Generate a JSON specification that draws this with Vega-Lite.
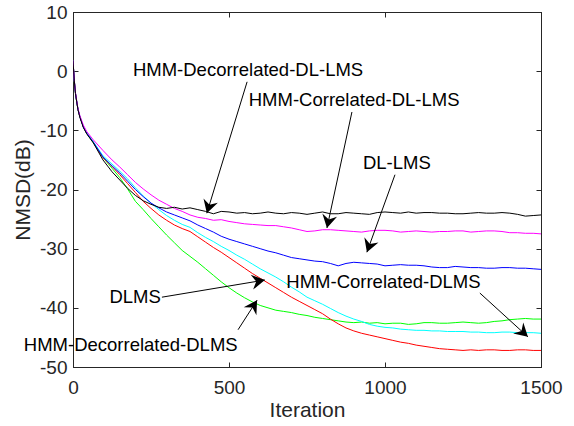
{
  "$schema": "https://vega.github.io/schema/vega-lite/v6.json",
  "width": 468,
  "height": 355,
  "autosize": "none",
  "padding": {"left": 73, "top": 12, "right": 33, "bottom": 59},
  "background": "white",
  "config": {
    "view": {"stroke": "#262626", "strokeWidth": 1},
    "font": "Liberation Sans",
    "axis": {
      "grid": false,
      "domainColor": "#262626",
      "tickColor": "#262626",
      "labelColor": "#262626",
      "titleColor": "#262626",
      "labelFont": "Liberation Sans",
      "titleFont": "Liberation Sans",
      "labelFontSize": 19,
      "titleFontSize": 21,
      "titleFontWeight": "normal",
      "tickSize": -5,
      "labelFlush": false,
      "labelOverlap": false,
      "labelExpr": "'' + datum.value"
    }
  },
  "datasets": {
    "curves": [
      {"x": 0, "k": 1.8, "m": 1.8, "b": 1.8, "c": 1.8, "r": 1.8, "g": 1.8},
      {"x": 4, "k": -1.5, "m": -1.4, "b": -1.5, "c": -1.5, "r": -1.5, "g": -1.5},
      {"x": 8, "k": -3.8, "m": -3.6, "b": -3.8, "c": -3.7, "r": -3.8, "g": -3.8},
      {"x": 12, "k": -5.2, "m": -5.0, "b": -5.2, "c": -5.1, "r": -5.2, "g": -5.2},
      {"x": 16, "k": -6.5, "m": -6.3, "b": -6.5, "c": -6.4, "r": -6.5, "g": -6.5},
      {"x": 22, "k": -7.8, "m": -7.5, "b": -7.7, "c": -7.6, "r": -7.7, "g": -7.7},
      {"x": 33, "k": -9.5, "m": -9.1, "b": -9.4, "c": -9.3, "r": -9.4, "g": -9.4},
      {"x": 44, "k": -10.6, "m": -10.2, "b": -10.5, "c": -10.4, "r": -10.5, "g": -10.5},
      {"x": 65, "k": -12.1, "m": -11.6, "b": -12.0, "c": -11.9, "r": -12.0, "g": -12.1},
      {"x": 96, "k": -15.0, "m": -13.4, "b": -14.5, "c": -14.3, "r": -14.6, "g": -14.6},
      {"x": 125, "k": -17.0, "m": -15.0, "b": -16.0, "c": -15.7, "r": -16.1, "g": -16.4},
      {"x": 150, "k": -18.4, "m": -16.2, "b": -17.2, "c": -16.9, "r": -17.5, "g": -18.0},
      {"x": 175, "k": -19.8, "m": -17.5, "b": -18.6, "c": -18.2, "r": -19.0, "g": -19.9},
      {"x": 200, "k": -21.0, "m": -18.8, "b": -20.0, "c": -19.7, "r": -20.5, "g": -22.0},
      {"x": 225, "k": -21.9, "m": -19.9, "b": -21.2, "c": -21.1, "r": -22.0, "g": -23.4},
      {"x": 250, "k": -22.5, "m": -20.9, "b": -22.3, "c": -22.3, "r": -23.2, "g": -24.9},
      {"x": 275, "k": -23.0, "m": -21.8, "b": -23.1, "c": -23.4, "r": -24.3, "g": -26.3},
      {"x": 300, "k": -23.2, "m": -22.5, "b": -23.8, "c": -24.4, "r": -25.2, "g": -27.7},
      {"x": 325, "k": -23.0, "m": -23.2, "b": -24.3, "c": -25.2, "r": -26.0, "g": -29.0},
      {"x": 350, "k": -23.3, "m": -23.7, "b": -24.8, "c": -25.9, "r": -26.6, "g": -30.3},
      {"x": 375, "k": -23.1, "m": -24.3, "b": -25.3, "c": -26.4, "r": -27.1, "g": -31.3},
      {"x": 400, "k": -23.4, "m": -24.7, "b": -26.0, "c": -27.3, "r": -28.0, "g": -32.3},
      {"x": 425, "k": -23.7, "m": -24.9, "b": -26.6, "c": -28.1, "r": -28.9, "g": -33.4},
      {"x": 450, "k": -24.1, "m": -25.2, "b": -27.2, "c": -28.8, "r": -29.8, "g": -34.5},
      {"x": 475, "k": -23.7, "m": -25.1, "b": -27.9, "c": -29.6, "r": -30.6, "g": -35.6},
      {"x": 500, "k": -23.8, "m": -25.4, "b": -28.4, "c": -30.3, "r": -31.5, "g": -36.6},
      {"x": 525, "k": -24.0, "m": -25.6, "b": -28.8, "c": -31.1, "r": -32.4, "g": -37.5},
      {"x": 550, "k": -23.9, "m": -25.8, "b": -29.2, "c": -31.8, "r": -33.3, "g": -38.3},
      {"x": 575, "k": -24.1, "m": -25.9, "b": -29.6, "c": -32.6, "r": -34.2, "g": -39.0},
      {"x": 600, "k": -24.0, "m": -26.0, "b": -30.0, "c": -33.4, "r": -35.0, "g": -39.6},
      {"x": 625, "k": -23.8, "m": -26.1, "b": -30.4, "c": -34.1, "r": -35.8, "g": -40.0},
      {"x": 650, "k": -24.0, "m": -26.1, "b": -30.7, "c": -34.8, "r": -36.6, "g": -40.4},
      {"x": 675, "k": -24.1, "m": -26.3, "b": -31.1, "c": -35.6, "r": -37.4, "g": -40.6},
      {"x": 700, "k": -23.9, "m": -26.5, "b": -31.5, "c": -36.5, "r": -38.2, "g": -40.8},
      {"x": 725, "k": -24.0, "m": -26.8, "b": -31.7, "c": -37.3, "r": -38.9, "g": -41.1},
      {"x": 750, "k": -24.2, "m": -27.1, "b": -31.9, "c": -38.2, "r": -39.6, "g": -41.3},
      {"x": 775, "k": -24.0, "m": -27.0, "b": -32.1, "c": -38.8, "r": -40.3, "g": -41.6},
      {"x": 800, "k": -23.8, "m": -26.8, "b": -32.2, "c": -39.4, "r": -41.0, "g": -41.8},
      {"x": 825, "k": -24.1, "m": -26.8, "b": -32.5, "c": -40.1, "r": -41.9, "g": -42.0},
      {"x": 850, "k": -24.1, "m": -26.9, "b": -32.9, "c": -40.8, "r": -42.7, "g": -42.2},
      {"x": 875, "k": -23.9, "m": -27.0, "b": -32.5, "c": -41.4, "r": -43.4, "g": -42.4},
      {"x": 900, "k": -24.0, "m": -27.1, "b": -32.3, "c": -41.9, "r": -43.9, "g": -42.5},
      {"x": 925, "k": -24.1, "m": -27.2, "b": -32.4, "c": -42.3, "r": -44.3, "g": -42.4},
      {"x": 950, "k": -24.2, "m": -27.0, "b": -32.5, "c": -42.8, "r": -44.6, "g": -42.6},
      {"x": 975, "k": -23.9, "m": -26.9, "b": -32.6, "c": -43.1, "r": -44.9, "g": -42.5},
      {"x": 1000, "k": -23.8, "m": -26.9, "b": -32.9, "c": -43.3, "r": -45.2, "g": -42.7},
      {"x": 1025, "k": -23.9, "m": -27.0, "b": -32.8, "c": -43.4, "r": -45.5, "g": -42.6},
      {"x": 1050, "k": -24.0, "m": -27.2, "b": -32.7, "c": -43.6, "r": -45.8, "g": -42.6},
      {"x": 1075, "k": -23.8, "m": -27.1, "b": -32.8, "c": -43.7, "r": -46.0, "g": -42.8},
      {"x": 1100, "k": -24.0, "m": -27.0, "b": -32.8, "c": -43.8, "r": -46.3, "g": -42.7},
      {"x": 1125, "k": -23.9, "m": -27.1, "b": -32.9, "c": -43.8, "r": -46.5, "g": -42.5},
      {"x": 1150, "k": -23.9, "m": -27.2, "b": -33.1, "c": -43.9, "r": -46.7, "g": -42.5},
      {"x": 1175, "k": -24.0, "m": -27.1, "b": -33.2, "c": -43.9, "r": -46.9, "g": -42.6},
      {"x": 1200, "k": -24.0, "m": -27.1, "b": -33.2, "c": -44.0, "r": -47.0, "g": -42.6},
      {"x": 1225, "k": -24.1, "m": -27.0, "b": -33.0, "c": -44.0, "r": -47.1, "g": -42.5},
      {"x": 1250, "k": -24.1, "m": -27.0, "b": -33.1, "c": -44.0, "r": -47.2, "g": -42.4},
      {"x": 1275, "k": -24.0, "m": -27.2, "b": -33.2, "c": -44.1, "r": -47.1, "g": -42.5},
      {"x": 1300, "k": -23.9, "m": -27.1, "b": -33.2, "c": -44.1, "r": -47.2, "g": -42.6},
      {"x": 1325, "k": -24.0, "m": -27.0, "b": -33.3, "c": -44.2, "r": -47.1, "g": -42.5},
      {"x": 1350, "k": -24.0, "m": -27.0, "b": -33.3, "c": -44.2, "r": -47.1, "g": -42.3},
      {"x": 1375, "k": -23.9, "m": -27.1, "b": -33.2, "c": -44.1, "r": -47.2, "g": -42.2},
      {"x": 1400, "k": -24.0, "m": -27.3, "b": -33.2, "c": -44.1, "r": -47.2, "g": -42.0},
      {"x": 1425, "k": -24.2, "m": -27.3, "b": -33.3, "c": -44.2, "r": -47.1, "g": -41.9},
      {"x": 1450, "k": -24.5, "m": -27.4, "b": -33.3, "c": -44.2, "r": -47.1, "g": -41.8},
      {"x": 1475, "k": -24.4, "m": -27.4, "b": -33.4, "c": -44.2, "r": -47.2, "g": -41.9},
      {"x": 1500, "k": -24.3, "m": -27.5, "b": -33.5, "c": -44.3, "r": -47.2, "g": -41.9}
    ],
    "labels": [
      {"x": 561, "y": 0.2, "t": "HMM-Decorrelated-DL-LMS"},
      {"x": 901, "y": -4.9, "t": "HMM-Correlated-DL-LMS"},
      {"x": 1038, "y": -15.5, "t": "DL-LMS"},
      {"x": 995, "y": -35.6, "t": "HMM-Correlated-DLMS"},
      {"x": 199, "y": -38.2, "t": "DLMS"},
      {"x": 185, "y": -46.3, "t": "HMM-Decorrelated-DLMS"}
    ],
    "arrows": [
      {"x": 558, "y": -1.8, "x2": 429, "y2": -24.0},
      {"x": 894, "y": -6.9, "x2": 814, "y2": -26.5},
      {"x": 1032, "y": -17.5, "x2": 942, "y2": -30.6},
      {"x": 1304, "y": -37.5, "x2": 1458, "y2": -44.9},
      {"x": 285, "y": -38.2, "x2": 615, "y2": -35.3},
      {"x": 529, "y": -43.7, "x2": 590, "y2": -38.7}
    ]
  },
  "layer": [
    {
      "data": {"name": "curves"},
      "transform": [{"fold": ["g", "r", "c", "b", "m", "k"], "as": ["s", "v"]}],
      "mark": {"type": "line", "strokeWidth": 1, "clip": true},
      "encoding": {
        "x": {"field": "x", "type": "quantitative", "scale": {"domain": [0, 1500], "nice": false, "zero": false},
              "axis": {"orient": "bottom", "values": [0, 500, 1000, 1500], "title": "Iteration", "labelPadding": 16, "titlePadding": 2}},
        "y": {"field": "v", "type": "quantitative", "scale": {"domain": [-50, 10], "nice": false, "zero": false},
              "axis": {"orient": "left", "values": [-50, -40, -30, -20, -10, 0, 10], "title": "NMSD(dB)", "labelPadding": 11, "titlePadding": 6}},
        "color": {"field": "s", "type": "nominal", "legend": null,
                  "scale": {"domain": ["g", "r", "c", "b", "m", "k"], "range": ["#00ff00", "#ff0000", "#00ffff", "#0000ff", "#ff00ff", "#000000"]}},
        "order": {"field": "x", "type": "quantitative"}
      }
    },
    {
      "data": {"values": [{"x": 0, "y": 0}]},
      "mark": {"type": "point", "opacity": 0},
      "encoding": {
        "x": {"field": "x", "type": "quantitative", "axis": {"orient": "top", "values": [0, 500, 1000, 1500], "labels": false, "title": null}},
        "y": {"field": "y", "type": "quantitative", "axis": {"orient": "right", "values": [-50, -40, -30, -20, -10, 0, 10], "labels": false, "title": null}}
      }
    },
    {
      "data": {"name": "arrows"},
      "mark": {"type": "rule", "color": "black", "strokeWidth": 1},
      "encoding": {
        "x": {"field": "x", "type": "quantitative", "axis": null},
        "y": {"field": "y", "type": "quantitative", "axis": null},
        "x2": {"field": "x2"},
        "y2": {"field": "y2"}
      }
    },
    {
      "data": {"values": [{"x": 429, "y": -24.0}]},
      "mark": {"type": "point", "shape": "M0,0 L-0.6,1.05 L0,0.7 L0.6,1.05 Z", "size": 625, "angle": 197, "filled": true, "color": "black", "opacity": 1, "strokeWidth": 0},
      "encoding": {"x": {"field": "x", "type": "quantitative", "axis": null}, "y": {"field": "y", "type": "quantitative", "axis": null}}
    },
    {
      "data": {"values": [{"x": 814, "y": -26.5}]},
      "mark": {"type": "point", "shape": "M0,0 L-0.6,1.05 L0,0.7 L0.6,1.05 Z", "size": 625, "angle": 192, "filled": true, "color": "black", "opacity": 1, "strokeWidth": 0},
      "encoding": {"x": {"field": "x", "type": "quantitative", "axis": null}, "y": {"field": "y", "type": "quantitative", "axis": null}}
    },
    {
      "data": {"values": [{"x": 942, "y": -30.6}]},
      "mark": {"type": "point", "shape": "M0,0 L-0.6,1.05 L0,0.7 L0.6,1.05 Z", "size": 625, "angle": 200, "filled": true, "color": "black", "opacity": 1, "strokeWidth": 0},
      "encoding": {"x": {"field": "x", "type": "quantitative", "axis": null}, "y": {"field": "y", "type": "quantitative", "axis": null}}
    },
    {
      "data": {"values": [{"x": 1458, "y": -44.9}]},
      "mark": {"type": "point", "shape": "M0,0 L-0.6,1.05 L0,0.7 L0.6,1.05 Z", "size": 625, "angle": 132.5, "filled": true, "color": "black", "opacity": 1, "strokeWidth": 0},
      "encoding": {"x": {"field": "x", "type": "quantitative", "axis": null}, "y": {"field": "y", "type": "quantitative", "axis": null}}
    },
    {
      "data": {"values": [{"x": 615, "y": -35.3}]},
      "mark": {"type": "point", "shape": "M0,0 L-0.6,1.05 L0,0.7 L0.6,1.05 Z", "size": 625, "angle": 80.6, "filled": true, "color": "black", "opacity": 1, "strokeWidth": 0},
      "encoding": {"x": {"field": "x", "type": "quantitative", "axis": null}, "y": {"field": "y", "type": "quantitative", "axis": null}}
    },
    {
      "data": {"values": [{"x": 590, "y": -38.7}]},
      "mark": {"type": "point", "shape": "M0,0 L-0.6,1.05 L0,0.7 L0.6,1.05 Z", "size": 625, "angle": 32.3, "filled": true, "color": "black", "opacity": 1, "strokeWidth": 0},
      "encoding": {"x": {"field": "x", "type": "quantitative", "axis": null}, "y": {"field": "y", "type": "quantitative", "axis": null}}
    },
    {
      "data": {"name": "labels"},
      "mark": {"type": "text", "font": "Liberation Sans", "fontSize": 18.5, "color": "black", "align": "center", "baseline": "middle"},
      "encoding": {
        "x": {"field": "x", "type": "quantitative", "axis": null},
        "y": {"field": "y", "type": "quantitative", "axis": null},
        "text": {"field": "t"}
      }
    }
  ],
  "resolve": {"axis": {"x": "independent", "y": "independent"}}
}
